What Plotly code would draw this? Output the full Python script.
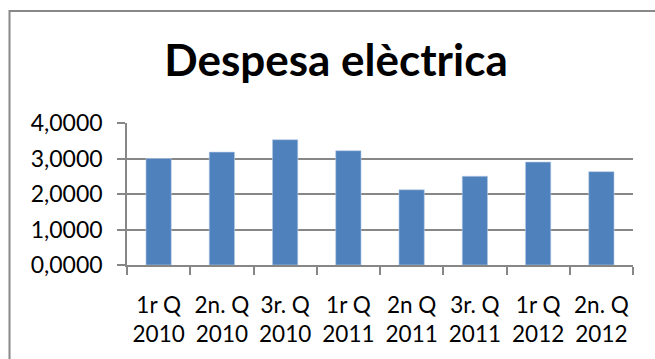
import plotly.graph_objects as go

# Quarterly electricity spending
quarters = ["1r Q<br>2010", "2n. Q<br>2010", "3r. Q<br>2010", "1r Q<br>2011",
            "2n Q<br>2011", "3r. Q<br>2011", "1r Q<br>2012", "2n. Q<br>2012"]
spending = [3.00, 3.18, 3.53, 3.22, 2.12, 2.50, 2.90, 2.63]
y_ticks = [0, 1, 2, 3, 4]

W, H = 655, 359
L, R, T, B = 127, 22, 123, 94
plot_w = W - L - R
plot_h = H - T - B

def px_to_paper_x(px):
    return (px - L) / plot_w

def px_to_paper_y(py):
    return (H - B - py) / plot_h

grid = "#878787"
font = "Lato"

fig = go.Figure(go.Bar(
    x=quarters,
    y=spending,
    marker=dict(color="#4F81BD", line=dict(color="#B9CDE5", width=0.6)),
))

fig.update_layout(
    width=W, height=H,
    margin=dict(l=L, r=R, t=T, b=B),
    paper_bgcolor="white", plot_bgcolor="white",
    separators=",.",
    bargap=0.6,
    showlegend=False,
    font=dict(family=font, color="black", size=22),
    title=dict(
        text="<b>Despesa elèctrica</b>",
        font=dict(family=font, size=44, color="black"),
        xref="paper", x=px_to_paper_x(336), xanchor="center",
        yref="container", y=1 - 61 / H, yanchor="middle",
    ),
    shapes=[
        # chart border (extends past the right and bottom edges)
        dict(type="rect", xref="paper", yref="paper",
             x0=px_to_paper_x(9.5), x1=px_to_paper_x(700),
             y0=px_to_paper_y(420), y1=px_to_paper_y(11),
             line=dict(color="#888888", width=2), fillcolor="rgba(0,0,0,0)",
             layer="below"),
    ],
)

fig.update_yaxes(
    range=[0, 4], tickvals=y_ticks, tickformat=".4f",
    showgrid=True, gridcolor=grid, gridwidth=1.5,
    showline=True, linecolor=grid, linewidth=1.5,
    ticks="outside", ticklen=8, tickcolor=grid, tickwidth=1.5,
    ticklabelstandoff=10,
    tickfont=dict(family=font, size=23, color="black"),
    zeroline=False, fixedrange=True,
)

fig.update_xaxes(
    showline=True, linecolor=grid, linewidth=1.5,
    ticks="outside", ticklen=8, tickcolor=grid, tickwidth=1.5,
    tickson="boundaries",
    ticklabelstandoff=19,
    tickfont=dict(family=font, size=22.5, color="black"),
    tickangle=0, fixedrange=True,
)

fig.write_html("out.html")
